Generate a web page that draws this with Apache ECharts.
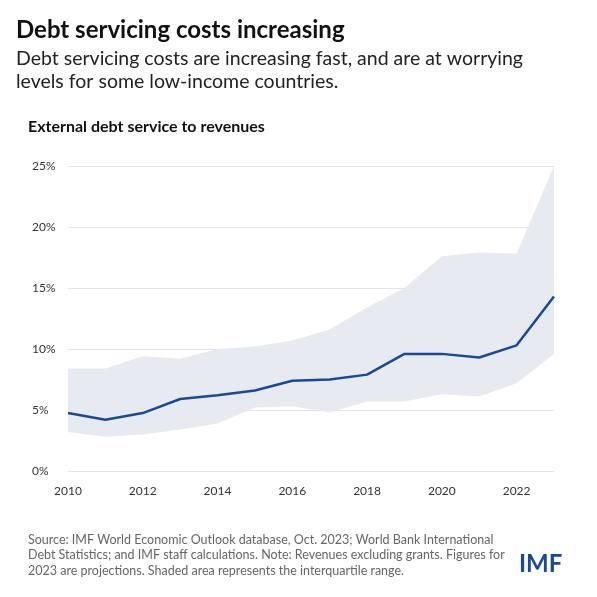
<!DOCTYPE html>
<html><head><meta charset="utf-8">
<script src="https://cdn.jsdelivr.net/npm/echarts@6/dist/echarts.min.js"></script>
<style>html,body{margin:0;padding:0;background:#fff}#c{width:597px;height:597px}</style>
</head><body><div id="c"></div>
<script>
const years=['2010','2011','2012','2013','2014','2015','2016','2017','2018','2019','2020','2021','2022','2023'];
const median=[4.75,4.2,4.75,5.9,6.2,6.6,7.4,7.5,7.9,9.6,9.6,9.3,10.3,14.3];
const upper=[8.4,8.4,9.4,9.2,10,10.2,10.7,11.6,13.4,15,17.6,17.9,17.8,25];
const lower=[3.2,2.8,3.0,3.4,3.9,5.2,5.3,4.8,5.7,5.7,6.3,6.1,7.2,9.6];
const yTicks=[0,5,10,15,20,25];
const F='Lato, "Open Sans", sans-serif';
const ch=echarts.init(document.getElementById('c'));
ch.setOption({
 backgroundColor:'#fff',animation:false,
 grid:{left:68,right:43,top:166,bottom:126},
 xAxis:{type:'category',data:years,boundaryGap:false,axisLine:{show:false},axisTick:{show:false},splitLine:{show:false},
  axisLabel:{color:'#333',fontSize:12,fontFamily:F,margin:14,interval:1}},
 yAxis:{type:'value',min:0,max:25,interval:5,axisLine:{show:false},axisTick:{show:false},
  splitLine:{lineStyle:{color:'#e4e4e4'}},axisLabel:{color:'#333',fontSize:12,fontFamily:F,margin:36,align:'left',formatter:v=>v+'%'}},
 series:[
  {type:'line',stack:'b',data:lower,symbol:'none',lineStyle:{opacity:0},areaStyle:{opacity:0}},
  {type:'line',stack:'b',data:upper.map((u,i)=>+(u-lower[i]).toFixed(2)),symbol:'none',lineStyle:{opacity:0},areaStyle:{color:'#e7eaf1',opacity:1}},
  {type:'line',data:median,symbol:'none',lineStyle:{color:'#1a4a94',width:2.5},z:5}
 ],
 graphic:[
  {type:'text',left:16,top:18,style:{text:'Debt servicing costs increasing',font:'bold 24px '+F,fill:'#111'}},
  {type:'text',left:16,top:47,style:{text:'Debt servicing costs are increasing fast, and are at worrying\nlevels for some low-income countries.',font:'19.5px '+F,fill:'#222',lineHeight:23}},
  {type:'text',left:28,top:119,style:{text:'External debt service to revenues',font:'bold 16px '+F,fill:'#111'}},
  {type:'text',left:476,top:306,style:{text:'Median',font:'bold 13px '+F,fill:'#1a4a94'}},
  {type:'text',left:28,top:532,style:{text:'Source: IMF World Economic Outlook database, Oct. 2023; World Bank International\nDebt Statistics; and IMF staff calculations. Note: Revenues excluding grants. Figures for\n2023 are projections. Shaded area represents the interquartile range.',font:'12.5px '+F,fill:'#666',lineHeight:15.5}},
  {type:'text',left:519,top:552,style:{text:'IMF',font:'bold 24px '+F,fill:'#1a4a94'}}
 ]
});
</script></body></html>
